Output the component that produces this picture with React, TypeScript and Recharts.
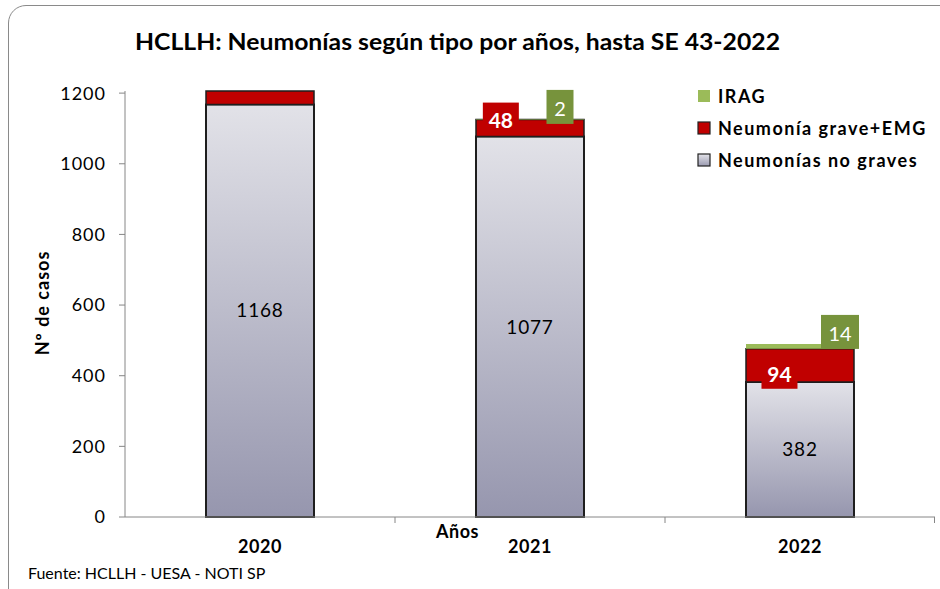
import React from "react"
import {
  BarChart,
  Bar,
  XAxis,
  YAxis,
  LabelList,
} from "recharts"

const years = ["2020", "2021", "2022"]
const noGraves = [1168, 1077, 382]
const graves = [38, 48, 94]
const irag = [0, 2, 14]
const yTicks = [0, 200, 400, 600, 800, 1000, 1200]

const data = years.map((year, i) => ({
  year,
  noGraves: noGraves[i],
  grave: graves[i],
  irag: irag[i],
}))

const FONT = "Lato, 'Open Sans', sans-serif"
const RED = "#c00000"
const GREEN = "#9bbb59"
const GREEN_DARK = "#77933c"
const AXIS = "#868686"

const W = 940
const H = 589
const M = { top: 91, right: 5, bottom: 42, left: 0 }
const Y_W = 125
const BAND = (W - M.right - M.left - Y_W) / years.length

// hand-placed label spots (like the original sheet), as fractions of the segment
const redLabelSpot: Record<number, { fx: number; fy: number }> = {
  1: { fx: 0.23, fy: -0.06 },
  2: { fx: 0.31, fy: 0.72 },
}

function RedLabel(props: any) {
  const { x, y, width, height, value, index } = props
  const spot = redLabelSpot[index]
  if (!spot || !value) return null
  const cx = x + width * spot.fx
  const cy = y + height * spot.fy
  const w = String(value).length * 12 + 12
  return (
    <g>
      <rect x={cx - w / 2} y={cy - 16} width={w} height={32} fill={RED} />
      <text x={cx} y={cy + 1} textAnchor="middle" dominantBaseline="central" fill="#fff" fontSize={21} fontWeight={700} fontFamily={FONT}>
        {value}
      </text>
    </g>
  )
}

function GreenLabel(props: any) {
  const { x, y, width, value } = props
  if (!value) return null
  const w = String(value).length * 11 + 16
  const cx = x + width - (w > 30 ? 14 : 24)
  const cy = y - 12
  return (
    <g>
      <rect x={cx - w / 2} y={cy - 17} width={w} height={34} fill={GREEN_DARK} />
      <text x={cx} y={cy + 1} textAnchor="middle" dominantBaseline="central" fill="#fff" fontSize={20} fontFamily={FONT}>
        {value}
      </text>
    </g>
  )
}

// year label plus the small tick marks between the categories
function YearTick(props: any) {
  const { x, y, payload, index } = props
  const left = x - BAND / 2
  const right = x + BAND / 2
  return (
    <g>
      {index > 0 && <line x1={left} y1={y} x2={left} y2={y + 6} stroke={AXIS} />}
      {index === years.length - 1 && <line x1={right - 0.5} y1={y} x2={right - 0.5} y2={y + 6} stroke={AXIS} />}
      <text
        x={x}
        y={y + 23}
        dy="0.71em"
        textAnchor="middle"
        fill="#000"
        fontSize={18}
        fontWeight={700}
        fontFamily={FONT}
        letterSpacing={0.5}
      >
        {payload.value}
      </text>
    </g>
  )
}

const legendItems = [
  { label: "IRAG", fill: GREEN, stroke: "none" },
  { label: "Neumonía grave+EMG", fill: RED, stroke: "#222" },
  { label: "Neumonías no graves", fill: "url(#legGray)", stroke: "#222" },
]

function LegendBox() {
  return (
    <div style={{ position: "absolute", left: 697, top: 80, fontFamily: FONT }}>
      {legendItems.map((it) => (
        <div key={it.label} style={{ display: "flex", alignItems: "center", height: 32 }}>
          <svg width={14} height={14} style={{ marginRight: 7 }}>
            <defs>
              <linearGradient id="legGray" x1="0" y1="0" x2="0" y2="1">
                <stop offset="0%" stopColor="#e4e4ea" />
                <stop offset="100%" stopColor="#9a9ab0" />
              </linearGradient>
            </defs>
            <rect x={1} y={1} width={12} height={12} fill={it.fill} stroke={it.stroke} strokeWidth={1.2} />
          </svg>
          <span style={{ fontSize: 18, fontWeight: 700, letterSpacing: 1.5, color: "#000" }}>{it.label}</span>
        </div>
      ))}
    </div>
  )
}

export default function App() {
  return (
    <div
      style={{
        position: "fixed",
        left: 0,
        top: 0,
        width: W,
        height: H,
        overflow: "hidden",
        background: "#fff",
        fontFamily: FONT,
      }}
    >
      <div
        style={{
          position: "absolute",
          left: 8,
          top: 5,
          width: 960,
          height: 620,
          border: "1.5px solid #8a8a8a",
          borderRadius: 18,
        }}
      />
      <svg style={{ position: "absolute", left: 0, top: 0 }} width={W} height={70}>
        <text
          x={135}
          y={50}
          textLength={645}
          lengthAdjust="spacingAndGlyphs"
          fontSize={22}
          fontWeight={700}
          fontFamily={FONT}
          fill="#000"
        >
          HCLLH: Neumonías según tipo por años, hasta SE 43-2022
        </text>
      </svg>
      <div style={{ position: "absolute", left: 0, top: 0 }}>
        <BarChart width={W} height={H} data={data} margin={M}>
          <defs>
            <linearGradient id="grayFill" x1="0" y1="0" x2="0" y2="1">
              <stop offset="0%" stopColor="#e2e2e8" />
              <stop offset="100%" stopColor="#9696ae" />
            </linearGradient>
          </defs>
          <XAxis
            dataKey="year"
            axisLine={{ stroke: AXIS }}
            tickLine={false}
            tickSize={0}
            tickMargin={0}
            height={30}
            interval={0}
            tick={<YearTick />}
          />
          <YAxis
            width={Y_W}
            domain={[0, 1206]}
            ticks={yTicks}
            interval={0}
            axisLine={{ stroke: AXIS }}
            tickLine={{ stroke: AXIS }}
            tickSize={6}
            tickMargin={13}
            tick={{ fill: "#000", fontSize: 18, fontFamily: FONT, letterSpacing: 1 }}
          />
          <Bar
            dataKey="noGraves"
            stackId="a"
            barSize={108}
            fill="url(#grayFill)"
            stroke="#1e1e1e"
            strokeWidth={2}
            isAnimationActive={false}
          >
            <LabelList dataKey="noGraves" position="center" fill="#000" fontSize={19} fontFamily={FONT} letterSpacing={0.8} />
          </Bar>
          <Bar
            dataKey="grave"
            stackId="a"
            barSize={108}
            fill={RED}
            stroke="#1e1e1e"
            strokeWidth={1.5}
            isAnimationActive={false}
          >
            <LabelList dataKey="grave" content={<RedLabel />} />
          </Bar>
          <Bar dataKey="irag" stackId="a" barSize={108} fill={GREEN} isAnimationActive={false}>
            <LabelList dataKey="irag" content={<GreenLabel />} />
          </Bar>
        </BarChart>
      </div>
      <LegendBox />
      <div
        style={{
          position: "absolute",
          left: 42,
          top: 303,
          transform: "translate(-50%, -50%) rotate(-90deg)",
          fontSize: 18,
          fontWeight: 700,
          letterSpacing: 1,
          whiteSpace: "nowrap",
          color: "#000",
        }}
      >
        Nº de casos
      </div>
      <div style={{ position: "absolute", left: 436, top: 520, fontSize: 18, fontWeight: 700, letterSpacing: 0.5, color: "#000" }}>
        Años
      </div>
      <div style={{ position: "absolute", left: 28, top: 563, fontSize: 16, color: "#000" }}>
        Fuente: HCLLH - UESA - NOTI SP
      </div>
    </div>
  )
}
